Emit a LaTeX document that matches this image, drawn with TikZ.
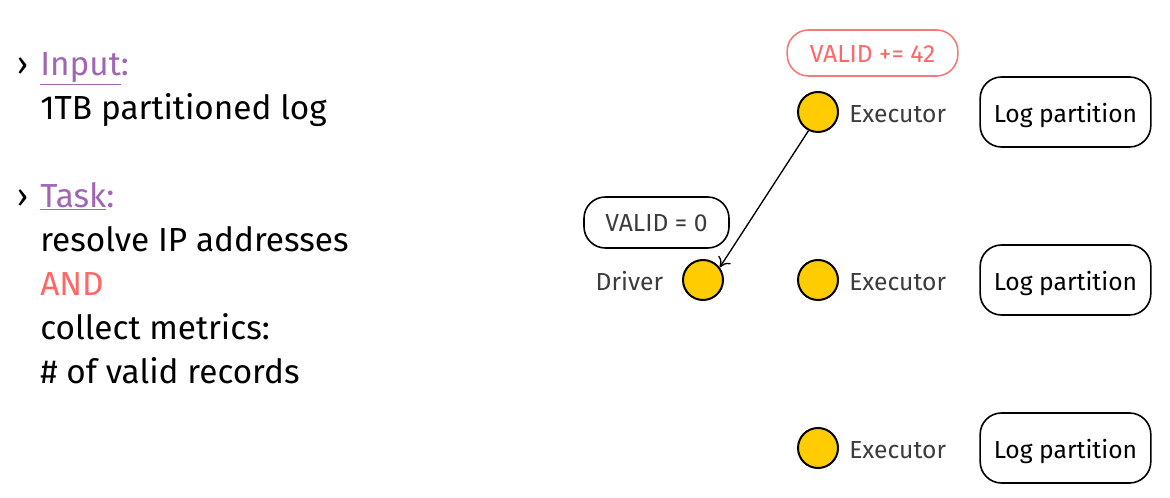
\documentclass[tikz,border=0pt]{standalone}
\usepackage{fontspec}
\setmainfont{Fira Sans}
\usepackage{tikz}
\usetikzlibrary{positioning,arrows.meta}

\definecolor{gold}{HTML}{FFCC00}
\definecolor{lilac}{HTML}{A066B4}
\definecolor{salmon}{HTML}{FF6666}
\definecolor{pink}{HTML}{F47A7A}
\definecolor{ink}{HTML}{3C3C3C}

\begin{document}
\begin{tikzpicture}[x=0.75pt,y=-0.75pt,node distance=126pt,
	dot/.style = {draw, circle, fill=gold, line width=1.5pt, minimum size=30pt, inner sep=0pt},
	part/.style = {draw, rounded corners=16pt, line width=1.2pt, minimum width=128pt, minimum height=52.5pt, text height=16pt, text depth=0pt, font=\fontsize{18.5}{20}\selectfont},
	lbl/.style = {inner sep=0pt, text=ink, text height=16pt, text depth=0pt, font=\fontsize{18.5}{20}\selectfont},
	txt/.style = {anchor=north west, inner sep=0pt, align=left, font=\fontsize{25}{33}\selectfont}]
	\useasboundingbox (0,0) rectangle (1170,498);
	\node[txt] (task) at (40,52) {\llap{›\hspace{9pt}}\textcolor{lilac}{\underline{Input}:}\\
		1TB partitioned log\\[33pt]
		\llap{›\hspace{9pt}}\textcolor{lilac}{\underline{Task}:}\\
		resolve IP addresses\\
		\textcolor{salmon}{AND}\\
		collect metrics:\\
		\# of valid records};
	\node[dot, label={[lbl, label distance=7.5pt]right:Executor}] (e1) at (818,112) {};
	\node[dot, label={[lbl, label distance=7.5pt]right:Executor}] (e2) [below of=e1] {};
	\node[dot, label={[lbl, label distance=7.5pt]right:Executor}] (e3) [below of=e2] {};
	\node[dot, label={[lbl, label distance=14pt]left:Driver}] (drv) [left of=e2, node distance=86.25pt] {};
	\node[part] (p1) [right of=e1, node distance=185.6pt] {Log partition};
	\node[part] (p2) [right of=e2, node distance=185.6pt] {Log partition};
	\node[part] (p3) [right of=e3, node distance=185.6pt] {Log partition};
	\node[part, minimum width=108.75pt, minimum height=38.25pt, text=ink, text height=14pt] (zero) at (656.5,222.5) {VALID = 0};
	\node[part, draw=pink, text=salmon, minimum height=34.5pt, text height=14pt] (add) at (872.5,53) {VALID += 42};
	\draw[-{To[length=7pt,width=11pt]}, line width=1pt] (e1.243) -- (drv.37);
\end{tikzpicture}
\end{document}
